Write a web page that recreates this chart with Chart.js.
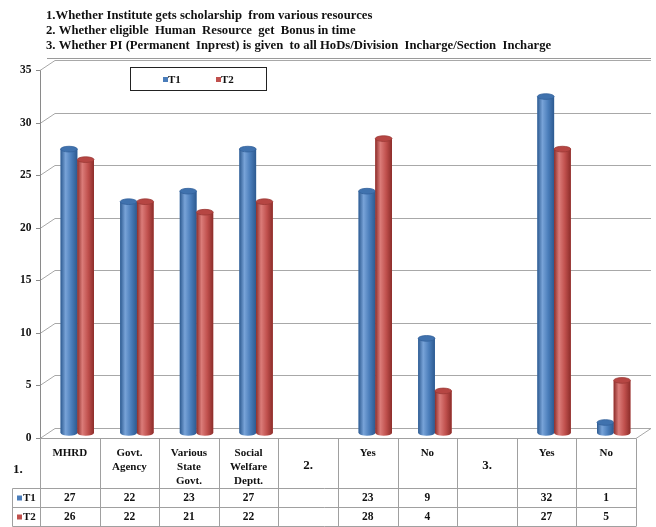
<!DOCTYPE html>
<html>
<head>
<meta charset="utf-8">
<script src="https://cdn.jsdelivr.net/npm/chart.js@4.4.0/dist/chart.umd.min.js"></script>
<style>
  html, body { margin: 0; padding: 0; background: #fff; }
  #wrap { position: relative; width: 656px; height: 527px; }
</style>
</head>
<body>
<div id="wrap"><canvas id="c" width="656" height="527"></canvas></div>
<script>
// Survey questions shown above the chart
const titleLines = [
  '1.Whether Institute gets scholarship  from various resources',
  '2. Whether eligible  Human  Resource  get  Bonus in time',
  '3. Whether PI (Permanent  Inprest) is given  to all HoDs/Division  Incharge/Section  Incharge'
];

// Category columns (multi-line header cells of the data table)
const categories = [
  ['MHRD'], ['Govt.', 'Agency'], ['Various', 'State', 'Govt.'], ['Social', 'Welfare', 'Deptt.'],
  ['2.'], ['Yes'], ['No'], ['3.'], ['Yes'], ['No']
];
const groupLabel = '1.';
const seriesNames = ['T1', 'T2'];
const t1Values = [27, 22, 23, 27, null, 23, 9, null, 32, 1];
const t2Values = [26, 22, 21, 22, null, 28, 4, null, 27, 5];
const yTicks = [0, 5, 10, 15, 20, 25, 30, 35];

const palette = {
  T1: { dark: '#2d5a90', mid: '#4a7dba', light: '#78a3d8', top: '#4072ae', rim: '#32619b' },
  T2: { dark: '#8c2d2a', mid: '#c0504d', light: '#db7c79', top: '#b64643', rim: '#9a3835' }
};

const SERIF = '"Liberation Serif", "Times New Roman", serif';
const DX = 7.5, DY = 5;           // half depth of the 3D box
const GRID = '#a8a8a8';
const TABLE_LINE = '#a0a0a0';

function cylinder(ctx, x, top, base, w, col) {
  const l = x - w / 2, r = x + w / 2, ry = w * 0.17;
  const g = ctx.createLinearGradient(l, 0, r, 0);
  g.addColorStop(0, col.dark);
  g.addColorStop(0.3, col.light);
  g.addColorStop(0.65, col.mid);
  g.addColorStop(1, col.dark);
  ctx.fillStyle = g;
  ctx.beginPath();
  ctx.moveTo(l, top);
  ctx.lineTo(l, base);
  ctx.ellipse(x, base, w / 2, ry, 0, Math.PI, 0, true);
  ctx.lineTo(r, top);
  ctx.closePath();
  ctx.fill();
  ctx.beginPath();
  ctx.ellipse(x, top, w / 2, ry, 0, 0, Math.PI * 2);
  ctx.fillStyle = col.top;
  ctx.fill();
  ctx.strokeStyle = col.rim;
  ctx.lineWidth = 0.8;
  ctx.stroke();
}

const boxPlugin = {
  id: 'box3d',
  beforeDatasetsDraw(chart) {
    const ctx = chart.ctx, ca = chart.chartArea, ys = chart.scales.y;
    ctx.save();
    ctx.lineWidth = 1;
    ctx.strokeStyle = GRID;
    // back wall and side wall gridlines
    yTicks.forEach(v => {
      const py = Math.round(ys.getPixelForValue(v)) + 0.5;
      ctx.beginPath();
      ctx.moveTo(ca.left - DX, py + DY);
      ctx.lineTo(ca.left + DX, py - DY);
      ctx.lineTo(ca.right + DX, py - DY);
      ctx.stroke();
    });
    // floor right edge
    const p0 = Math.round(ys.getPixelForValue(0)) + 0.5;
    ctx.beginPath();
    ctx.moveTo(ca.right - DX, p0 + DY);
    ctx.lineTo(ca.right + DX, p0 - DY);
    ctx.stroke();
    // front vertical axis with tick marks
    const top = Math.round(ys.getPixelForValue(35)) + 0.5;
    ctx.strokeStyle = '#8a8a8a';
    ctx.beginPath();
    ctx.moveTo(Math.round(ca.left - DX) + 0.5, top + DY);
    ctx.lineTo(Math.round(ca.left - DX) + 0.5, p0 + DY);
    yTicks.forEach(v => {
      const py = Math.round(ys.getPixelForValue(v)) + 0.5 + DY;
      ctx.moveTo(Math.round(ca.left - DX) - 4, py);
      ctx.lineTo(Math.round(ca.left - DX) + 0.5, py);
    });
    ctx.stroke();
    ctx.restore();
  },
  afterDatasetsDraw(chart) {
    const ctx = chart.ctx;
    ctx.save();
    chart.data.datasets.forEach((ds, i) => {
      const meta = chart.getDatasetMeta(i);
      const col = palette[ds.label];
      meta.data.forEach((bar, j) => {
        if (ds.data[j] == null) return;
        const p = bar.getProps(['x', 'y', 'base', 'width'], true);
        cylinder(ctx, p.x, p.y, p.base, p.width, col);
      });
    });
    ctx.restore();
  },
  afterDraw(chart) {
    const ctx = chart.ctx, ca = chart.chartArea, ys = chart.scales.y;
    ctx.save();
    ctx.fillStyle = '#111';
    ctx.textBaseline = 'middle';

    // title block
    ctx.font = 'bold 12.7px ' + SERIF;
    ctx.textAlign = 'left';
    titleLines.forEach((t, i) => ctx.fillText(t, 46, 16 + i * 15));
    ctx.strokeStyle = '#9a9a9a';
    ctx.lineWidth = 1;
    ctx.beginPath();
    ctx.moveTo(47, 58.5);
    ctx.lineTo(651, 58.5);
    ctx.stroke();

    // legend box
    ctx.strokeStyle = '#222';
    ctx.strokeRect(130.5, 67.5, 136, 23);
    ctx.font = 'bold 11px ' + SERIF;
    [[163, 'T1'], [216, 'T2']].forEach(([lx, name]) => {
      ctx.fillStyle = palette[name].mid;
      ctx.fillRect(lx, 77, 5, 5);
      ctx.fillStyle = '#111';
      ctx.fillText(name, lx + 5, 80);
    });

    // data table
    const n = categories.length;
    const colW = (ca.right - ca.left) / n;
    const x0 = ca.left - DX;
    const tTop = Math.round(ys.getPixelForValue(0) + DY) + 0.5;
    const hBot = tTop + 50, r1 = hBot + 19, r2 = r1 + 19;
    const xl = 12.5;
    ctx.strokeStyle = TABLE_LINE;
    ctx.beginPath();
    ctx.moveTo(x0, tTop); ctx.lineTo(x0 + n * colW, tTop);
    [hBot, r1, r2].forEach(y => { ctx.moveTo(xl, y); ctx.lineTo(x0 + n * colW, y); });
    for (let k = 0; k <= n; k++) {
      const x = Math.round(x0 + k * colW) + 0.5;
      ctx.moveTo(x, tTop); ctx.lineTo(x, r2);
    }
    ctx.moveTo(xl, hBot); ctx.lineTo(xl, r2);
    ctx.stroke();

    ctx.fillStyle = '#111';
    ctx.textAlign = 'center';
    categories.forEach((lines, k) => {
      const cx = x0 + (k + 0.5) * colW;
      if (lines.length === 1 && /^\d\.$/.test(lines[0])) {
        ctx.font = 'bold 13px ' + SERIF;
        ctx.fillText(lines[0], cx, tTop + 27);
      } else {
        ctx.font = 'bold 11px ' + SERIF;
        lines.forEach((s, li) => ctx.fillText(s, cx, tTop + 15 + li * 14));
      }
      ctx.font = 'bold 11.5px ' + SERIF;
      if (t1Values[k] != null) ctx.fillText(String(t1Values[k]), cx, hBot + 10);
      if (t2Values[k] != null) ctx.fillText(String(t2Values[k]), cx, r1 + 10);
    });
    ctx.textAlign = 'left';
    ctx.font = 'bold 13px ' + SERIF;
    ctx.fillText(groupLabel, 13, tTop + 31);
    ctx.font = 'bold 11px ' + SERIF;
    [[hBot, 'T1'], [r1, 'T2']].forEach(([ry, name]) => {
      ctx.fillStyle = palette[name].mid;
      ctx.fillRect(17, ry + 7, 5, 5);
      ctx.fillStyle = '#111';
      ctx.fillText(name, 23, ry + 10);
    });
    ctx.restore();
  }
};

new Chart(document.getElementById('c'), {
  type: 'bar',
  data: {
    labels: categories.map(c => c.join(' ')),
    datasets: [
      { label: seriesNames[0], data: t1Values, backgroundColor: palette.T1.mid },
      { label: seriesNames[1], data: t2Values, backgroundColor: palette.T2.mid }
    ]
  },
  options: {
    responsive: false,
    animation: false,
    devicePixelRatio: 1,
    layout: { padding: { top: 65, bottom: 94, left: 0, right: 12.5 } },
    categoryPercentage: 0.56,
    barPercentage: 1,
    plugins: { legend: { display: false }, tooltip: { enabled: false }, title: { display: false } },
    scales: {
      x: { display: false },
      y: {
        min: 0, max: 35,
        afterFit(scale) { scale.width = 47.5; },
        afterBuildTicks(scale) { scale.ticks = yTicks.map(v => ({ value: v })); },
        grid: { display: false, drawTicks: false },
        border: { display: false },
        ticks: {
          padding: 16,
          labelOffset: 5,
          color: '#111',
          font: { family: SERIF, size: 11.5, weight: 'bold' }
        }
      }
    }
  },
  plugins: [boxPlugin]
});
</script>
</body>
</html>
